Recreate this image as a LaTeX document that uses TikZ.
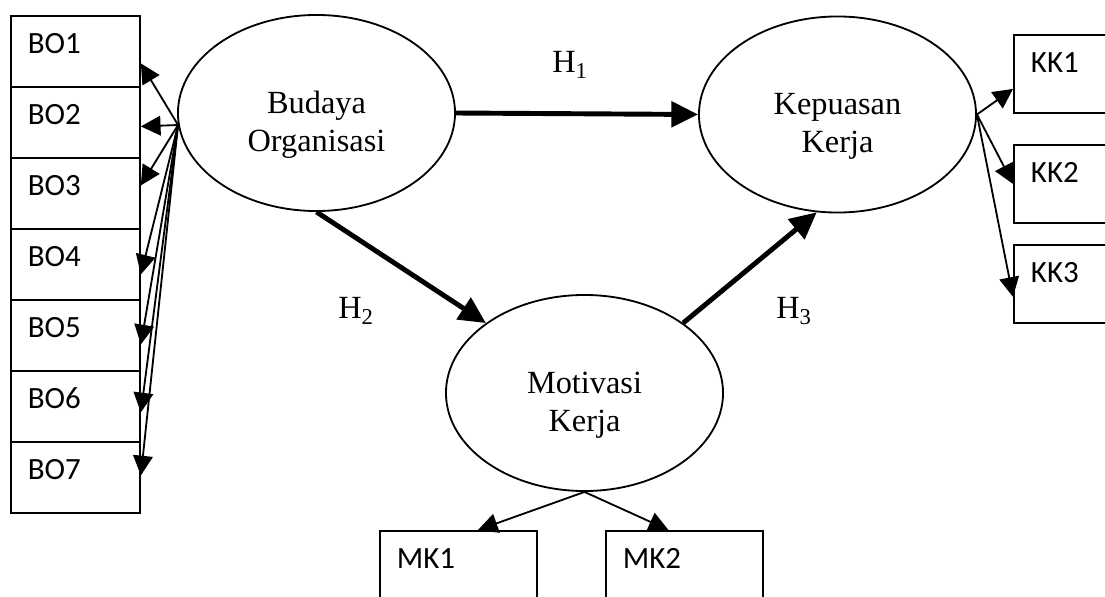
\documentclass[tikz,border=0pt]{standalone}
\usepackage{fontspec}
\setmainfont{Liberation Serif}
\newfontfamily\boxfont{Carlito}
\usetikzlibrary{arrows.meta,calc,shapes.geometric}

\begin{document}
\begin{tikzpicture}[
  x=0.025cm,y=-0.025cm,line width=1.3pt,
  font=\fontsize{23}{27}\selectfont,
  latent/.style={draw,ellipse,minimum width=6.925cm,minimum height=4.9cm,inner sep=0pt},
  lattext/.style={align=center,yshift=-0.3cm},
  ind/.style={draw,anchor=north west,font=\boxfont\fontsize{22}{26}\selectfont,
    text width=2.375cm,align=left,inner xsep=0.425cm,inner ysep=0.1cm,
    text height=0.85cm,text depth=0.725cm},
  load/.style={-{Triangle[length=14pt,width=14pt]},line width=1.3pt},
  effect/.style={-{Triangle[length=19pt,width=18pt]},line width=3.5pt},
  hyp/.style={inner sep=0pt}
]
\clip (0,0) rectangle (1105,597);
% latent variables
\node[latent,label={[lattext]center:Budaya\\Organisasi}] (budaya) at (316.5,113) {};
\node[latent,label={[lattext]center:Kepuasan\\Kerja}] (kepuasan) at (837.5,114.5) {};
\node[latent,label={[lattext]center:Motivasi\\Kerja}] (motivasi) at (584.5,393) {};
% indicators
\node[ind] (bo1) at (10,15)  {BO1};
\node[ind] (bo2) at (10,86)  {BO2};
\node[ind] (bo3) at (10,157) {BO3};
\node[ind] (bo4) at (10,228) {BO4};
\node[ind] (bo5) at (10,299) {BO5};
\node[ind] (bo6) at (10,370) {BO6};
\node[ind] (bo7) at (10,441) {BO7};
\node[ind,text depth=0.9cm] (kk1) at (1013,34)  {KK1};
\node[ind,text depth=0.9cm] (kk2) at (1013,144) {KK2};
\node[ind,text depth=0.9cm] (kk3) at (1013,244) {KK3};
\node[ind,text width=3.075cm] (mk1) at (379,530) {MK1};
\node[ind,text width=3.075cm] (mk2) at (605,530) {MK2};
% loadings
\coordinate (bosrc) at ($(budaya.west)+(1,12)$);
\foreach \i/\dy in {1/12,2/4,3/-8,4/10,5/9,6/6,7/-2}
  \draw[load] (bosrc) -- ($(bo\i.east)+(0,\dy)$);
\foreach \i/\dy in {1/15,2/0,3/13}
  \draw[load] (kepuasan.east) -- ($(kk\i.west)+(0,\dy)$);
\draw[load] (motivasi.south) -- ($(mk1.north)+(19.5,0)$);
\draw[load] (motivasi.south) -- ($(mk2.north)+(-16,0)$);
% hypotheses
\draw[effect] (budaya.east) -- (kepuasan.west);
\draw[effect] (budaya.south) -- (motivasi.north west);
\draw[effect] (motivasi.north east) -- (kepuasan.258);
\node[hyp] (h1) at (570,65)  {H\textsubscript{1}};
\node[hyp] (h2) at (356,311) {H\textsubscript{2}};
\node[hyp] (h3) at (794,311) {H\textsubscript{3}};
\end{tikzpicture}
\end{document}
